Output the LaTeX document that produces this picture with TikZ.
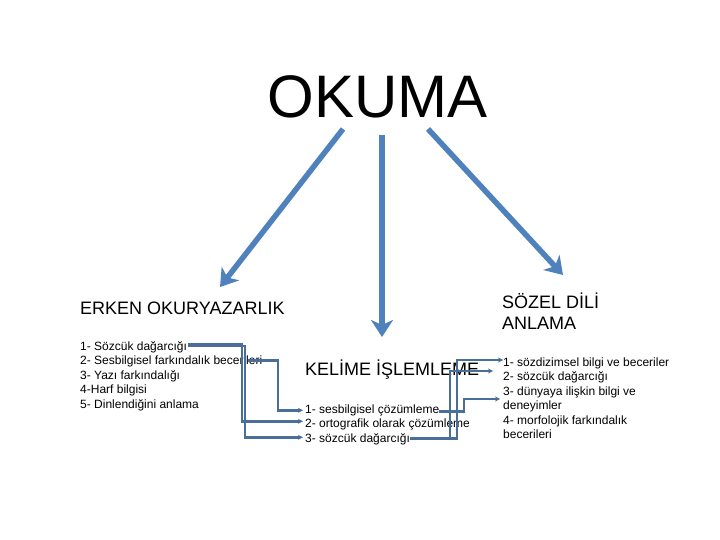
\documentclass[tikz,border=0pt]{standalone}
\usepackage{fontspec}
\setmainfont{Liberation Sans}
\usetikzlibrary{arrows.meta,calc}
\definecolor{bigblue}{RGB}{79,129,189}
\definecolor{connblue}{RGB}{74,110,154}
\begin{document}
\begin{tikzpicture}[x=1pt,y=-1pt,
  txt/.style={inner sep=0pt, anchor=base west, font=\fontsize{12}{14}\selectfont},
  head/.style={inner sep=0pt, anchor=base west, font=\fontsize{18}{21}\selectfont},
  conn/.style={draw=connblue, line width=2.4pt, -{Stealth[length=5pt,width=5pt]}},
  big/.style={draw=bigblue, line width=5.5pt, -{Stealth[length=17pt,width=22pt,inset=5pt]}}]
\fill[white] (0,0) rectangle (720,540);
\useasboundingbox (0,0) rectangle (720,540);

\node[inner sep=0pt, anchor=base, font=\fontsize{60}{72}\selectfont] (title) at (377.5,118) {OKUMA};

\node[head] (erken) at (80,314.5) {ERKEN OKURYAZARLIK};
\node[head] (kelime) at (305,375) {KELİME İŞLEMLEME};
\node[head] (sozel1) at (502,308.5) {SÖZEL DİLİ};
\node[head] (sozel2) at (502,329) {ANLAMA};

\node[txt] (l1) at (80,350) {1- Sözcük dağarcığı};
\node[txt] (l2) at (80,364.5) {2- Sesbilgisel farkındalık becerileri};
\node[txt] (l3) at (80,379) {3- Yazı farkındalığı};
\node[txt] (l4) at (80,393.5) {4-Harf bilgisi};
\node[txt] (l5) at (80,408) {5- Dinlendiğini anlama};

\node[txt] (m1) at (305,413.3) {1- sesbilgisel çözümleme};
\node[txt] (m2) at (305,427.3) {2- ortografik olarak çözümleme};
\node[txt] (m3) at (305,442.3) {3- sözcük dağarcığı};

\node[txt] (r1) at (503,366) {1- sözdizimsel bilgi ve beceriler};
\node[txt] (r2) at (503,380) {2- sözcük dağarcığı};
\node[txt] (r3) at (503,395) {3- dünyaya ilişkin bilgi ve};
\node[txt] (r4) at (503,409.5) {deneyimler};
\node[txt] (r5) at (503,424) {4- morfolojik farkındalık};
\node[txt] (r6) at (503,438.5) {becerileri};

% big arrows
\coordinate (a1s) at (343,129); \coordinate (a1e) at (220,287);
\coordinate (a2s) at (382,135); \coordinate (a2e) at (382,337);
\coordinate (a3s) at (428,129); \coordinate (a3e) at (563,275);
\draw[big] (a1s) -- (a1e);
\draw[big] (a2s) -- (a2e);
\draw[big] (a3s) -- (a3e);

% thin connectors
\draw[conn] ($(l1.base east)+(1,-6)$) -| ($(m2.base west)+(-63,-6)$) -- ($(m2.base west)+(-2,-6)$);
\draw[conn] ($(l1.base east)+(1,-4)$) -| ($(m3.base west)+(-60,-5)$) -- ($(m3.base west)+(-2,-5)$);
\draw[conn] ($(l2.base east)+(-14,-4)$) -| ($(m1.base west)+(-27,-3)$) -- ($(m1.base west)+(-2,-3)$);
\draw[conn] ($(m1.base east)+(0,-2)$) -| ($(r3.base west)+(-39,4)$) -- ($(r3.base west)+(-3,4)$);
\draw[conn] ($(m3.base east)+(0,-4)$) -| ($(r1.base west)+(-46,-6)$) -- ($(r1.base west)+(0,-6)$);
\draw[conn] ($(m3.base east)+(0,-4)$) -| ($(r2.base west)+(-53,-9)$) -- ($(r2.base west)+(-10,-9)$);
\end{tikzpicture}
\end{document}
